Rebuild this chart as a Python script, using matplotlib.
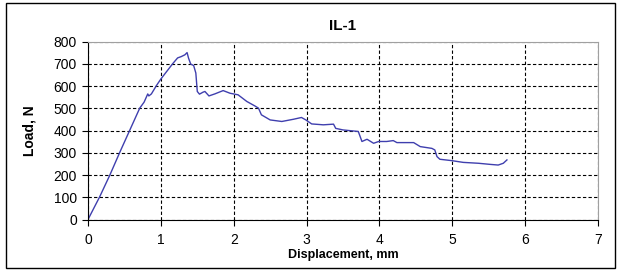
import matplotlib
matplotlib.use("Agg")
from matplotlib import pyplot as plt
from matplotlib import patches as mpatches

plt.rcParams['font.family'] = ['Liberation Sans', 'DejaVu Sans']

# displacement (mm) and load (N)
displacement = [0.0, 0.16, 0.30, 0.44, 0.575, 0.71, 0.77, 0.82, 0.835, 0.87, 0.94, 1.0,
                1.16, 1.23, 1.28, 1.33, 1.36, 1.38, 1.41, 1.45, 1.48, 1.50, 1.53, 1.58,
                1.605, 1.66, 1.74, 1.855, 1.95, 2.06, 2.18, 2.29, 2.34, 2.38, 2.50, 2.66,
                2.82, 2.93, 2.99, 3.07, 3.23, 3.37, 3.40, 3.50, 3.71, 3.76, 3.83, 3.92,
                3.99, 4.10, 4.19, 4.24, 4.47, 4.56, 4.72, 4.76, 4.79, 4.83, 4.99, 5.15,
                5.36, 5.52, 5.63, 5.70, 5.75]
load = [0, 102, 200, 305, 403, 501, 528, 565, 556, 565, 603, 632,
        700, 727, 733, 741, 751, 726, 699, 693, 659, 576, 564, 573,
        576, 556, 565, 580, 568, 561, 531, 511, 501, 471, 448, 441,
        451, 459, 448, 430, 426, 429, 410, 403, 396, 351, 361, 343,
        351, 351, 355, 346, 346, 328, 320, 313, 283, 271, 265, 257,
        253, 248, 245, 253, 268]

x_ticks = [0, 1, 2, 3, 4, 5, 6, 7]
y_ticks = [0, 100, 200, 300, 400, 500, 600, 700, 800]

fig = plt.figure(figsize=(6.25, 2.75), dpi=100)
ax = fig.add_axes([0.1408, 0.2018, 0.816, 0.6466])

ax.plot(displacement, load, '-', color='#3f3fae', linewidth=1.0)

ax.set_xlim(0, 7)
ax.set_ylim(0, 800)
ax.set_xticks(x_ticks)
ax.set_yticks(y_ticks)
ax.tick_params(direction='out', length=4, width=0.8, labelsize=10, color='black')
ax.tick_params(axis='x', pad=6)
ax.tick_params(axis='y', pad=4)
ax.grid(which='major', linestyle=(0, (3, 2)), color='black', linewidth=0.8)

for side in ['top', 'right']:
    ax.spines[side].set_color('#a0a0a0')
for side in ['left', 'bottom']:
    ax.spines[side].set_color('black')

ax.set_title('IL-1', fontsize=11, fontweight='bold', pad=8.5)
ax.set_ylabel('Load, N', fontsize=10, fontweight='bold', labelpad=12)
fig.text(343 / 625, 1 - 258 / 275, 'Displacement, mm', fontsize=9, fontweight='bold',
         ha='center', va='baseline')

# outer chart border
fig.patches.append(mpatches.Rectangle((6 / 625, 1 - 268 / 275), 609 / 625, 265 / 275,
                                      transform=fig.transFigure, fill=False,
                                      edgecolor='black', linewidth=1.0))

fig.savefig('out.png', dpi=100)
